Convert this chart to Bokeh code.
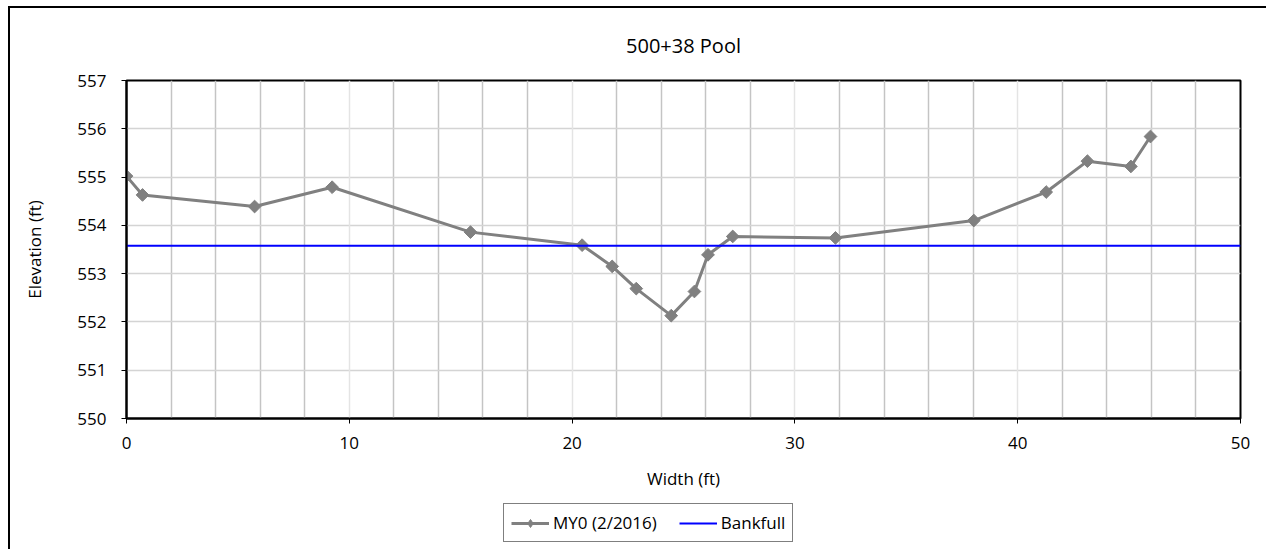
import math
from bokeh.plotting import figure
from bokeh.layouts import column
from bokeh.models import (Range1d, FixedTicker, Grid, Legend, LegendItem, Title,
                          ColumnDataSource)
from bokeh.embed import file_html
from bokeh.resources import INLINE

# ---- data ----
title_text = "500+38 Pool"
width_ft = [0, 0.72, 5.75, 9.23, 15.44, 20.45, 21.8, 22.88, 24.45, 25.49, 26.1, 27.21,
            31.82, 38.03, 41.28, 43.13, 45.08, 45.96]
elev_ft = [555.02, 554.63, 554.39, 554.79, 553.86, 553.59, 553.15, 552.69, 552.13, 552.63,
           553.39, 553.77, 553.74, 554.10, 554.69, 555.33, 555.22, 555.84]
bankfull_x = [0, 50]
bankfull_y = [553.58, 553.58]
x_ticks = [0, 10, 20, 30, 40, 50]
x_minor_grid = [2, 4, 6, 8, 12, 14, 16, 18, 22, 24, 26, 28, 32, 34, 36, 38, 42, 44, 46, 48]
x_major_grid = [10, 20, 30, 40]
y_ticks = [550, 551, 552, 553, 554, 555, 556, 557]
series_name = "MY0 (2/2016)"
bank_name = "Bankfull"

FONT = "Open Sans"
GRAY = "#808080"
BLUE = "#0000ff"

p = figure(width=1256, height=495, output_backend="svg", toolbar_location=None,
           x_range=Range1d(0, 50), y_range=Range1d(550, 557),
           min_border_left=116, min_border_right=26, min_border_top=71, min_border_bottom=85)
p.background_fill_color = "white"
p.border_fill_color = "white"
p.outline_line_color = "black"
p.outline_line_width = 2

p.title = Title(text=title_text, align="center", text_font=FONT, text_font_size="20px",
                text_font_style="normal", text_color="black", standoff=43)

# axes
p.xaxis.ticker = FixedTicker(ticks=x_ticks)
p.yaxis.ticker = FixedTicker(ticks=y_ticks)
for ax in (p.xaxis[0], p.yaxis[0]):
    ax.axis_line_color = "black"
    ax.axis_line_width = 2
    ax.major_tick_line_color = "black"
    ax.major_tick_out = 5
    ax.major_tick_in = 0
    ax.minor_tick_line_color = None
    ax.major_label_text_font = FONT
    ax.major_label_text_font_size = "17px"
    ax.major_label_text_color = "black"
    ax.axis_label_text_font = FONT
    ax.axis_label_text_font_size = "17px"
    ax.axis_label_text_font_style = "normal"
    ax.axis_label_text_color = "black"
p.xaxis.axis_label = "Width (ft)"
p.yaxis.axis_label = "Elevation (ft)"
p.xaxis.major_label_standoff = 13
p.yaxis.major_label_standoff = 15
p.xaxis.axis_label_standoff = 15
p.yaxis.axis_label_standoff = 28

# grids
p.xgrid.ticker = FixedTicker(ticks=x_minor_grid)
p.xgrid.grid_line_color = "#c4c4c4"
p.xgrid.grid_line_width = 1.5
p.add_layout(Grid(dimension=0, ticker=FixedTicker(ticks=x_major_grid),
                  grid_line_color="#e4e4e4", grid_line_width=1.5))
p.ygrid.grid_line_color = "#d4d4d4"
p.ygrid.grid_line_width = 1.5

# data
src = ColumnDataSource(dict(x=width_ft, y=elev_ft))
p.line("x", "y", source=src, line_color=GRAY, line_width=3)
p.scatter("x", "y", source=src, marker="square", angle=math.pi / 4, size=9,
          fill_color=GRAY, line_color=GRAY)
p.line(bankfull_x, bankfull_y, line_color=BLUE, line_width=2)

# legend strip (separate small figure holding the legend)
q = figure(width=1256, height=46, output_backend="svg", toolbar_location=None,
           x_range=Range1d(100, 101), y_range=Range1d(100, 101),
           x_axis_location=None, y_axis_location=None,
           min_border_left=0, min_border_right=0, min_border_top=0, min_border_bottom=0)
q.grid.visible = False
q.outline_line_color = None
q.background_fill_color = "white"
q.border_fill_color = "white"
lsrc = ColumnDataSource(dict(x=width_ft, y=elev_ft))
l1 = q.line("x", "y", source=lsrc, line_color=GRAY, line_width=3)
l2 = q.scatter("x", "y", source=lsrc, marker="diamond", size=11,
               fill_color=GRAY, line_color=GRAY)
l3 = q.line(bankfull_x, bankfull_y, line_color=BLUE, line_width=2)
legend = Legend(items=[LegendItem(label=series_name, renderers=[l1, l2]),
                       LegendItem(label=bank_name, renderers=[l3])],
                orientation="horizontal", location=(377, 7),
                border_line_color="black", border_line_width=1.5,
                label_text_font=FONT, label_text_font_size="17px", label_text_color="black",
                label_standoff=4, glyph_width=38, glyph_height=20, spacing=22,
                padding=7, margin=0, background_fill_alpha=1)
q.add_layout(legend, "center")

layout = column(p, q, spacing=0, margin=(6, 0, 0, 8),
                styles={"border-top": "2px solid black", "border-left": "2px solid black"})

open("out.html", "w").write(file_html(layout, INLINE))
